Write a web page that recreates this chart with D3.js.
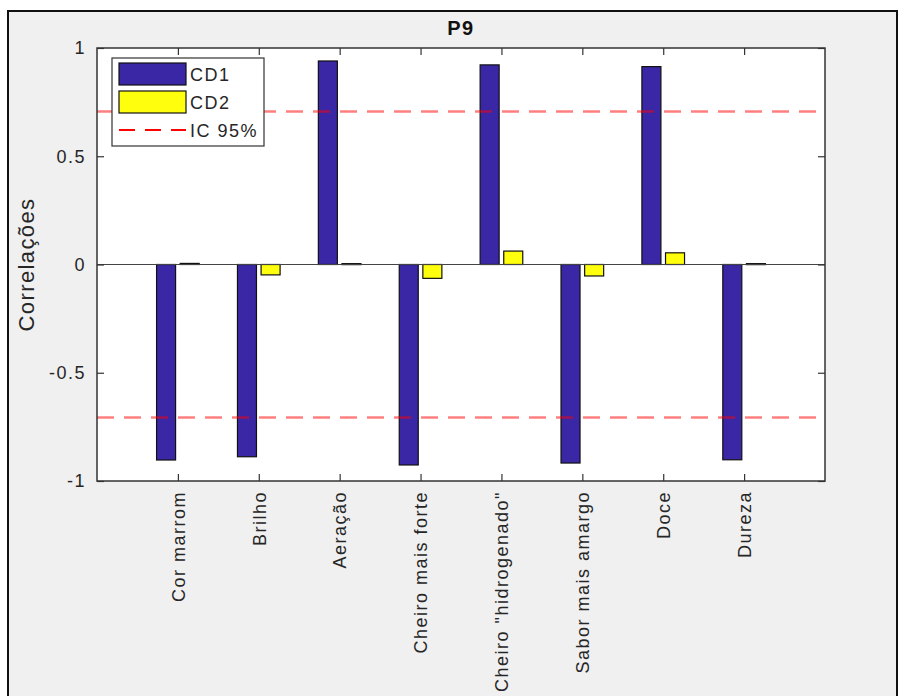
<!DOCTYPE html>
<html>
<head>
<meta charset="utf-8">
<script src="https://cdn.jsdelivr.net/npm/d3@7"></script>
<style>
  html, body { margin: 0; padding: 0; background: #ffffff; }
  svg { display: block; font-family: "Liberation Sans", Arial, Helvetica, sans-serif; }
</style>
</head>
<body>
<svg id="chart" width="898" height="696"></svg>
<script>
// Correlations of each attribute with the two discriminant functions
const categories = ["Cor marrom", "Brilho", "Aeração", "Cheiro mais forte",
                    "Cheiro \"hidrogenado\"", "Sabor mais amargo", "Doce", "Dureza"];
const cd1 = [-0.903, -0.888, 0.940, -0.926, 0.922, -0.917, 0.914, -0.902];
const cd2 = [0.005, -0.048, 0.004, -0.064, 0.062, -0.053, 0.054, 0.004];
const ic95 = 0.707;
const yTicks = [-1, -0.5, 0, 0.5, 1];
const seriesNames = ["CD1", "CD2"];
const seriesColors = ["#3a27a6", "#ffff0d"];

const svg = d3.select("#chart");
const W = 898, H = 696;
const plot = { left: 97, right: 825, top: 48, bottom: 481 };
const labelFont = { size: "18px", spacing: "1.5px" };

// Figure panel
svg.append("rect").attr("x", 0).attr("y", 0).attr("width", W).attr("height", H).attr("fill", "#ffffff");
svg.append("rect").attr("x", 8).attr("y", 11).attr("width", 889).attr("height", H)
  .attr("fill", "#f0f0f0").attr("stroke", "#111").attr("stroke-width", 2);

// Scales: categories sit at integer positions 1..n on a numeric axis
const x = d3.scaleLinear().domain([0, categories.length + 1]).range([plot.left, plot.right]);
const y = d3.scaleLinear().domain([-1, 1]).range([plot.bottom, plot.top]);

svg.append("rect").attr("x", plot.left).attr("y", plot.top)
  .attr("width", plot.right - plot.left).attr("height", plot.bottom - plot.top)
  .attr("fill", "#ffffff");

// Bars
const barW = 0.235, offset = 0.146;
const series = [cd1, cd2];
series.forEach((vals, s) => {
  const dx = s === 0 ? -offset : offset;
  svg.append("g").selectAll("rect").data(vals).join("rect")
    .attr("x", (d, i) => x(i + 1 + dx - barW / 2))
    .attr("width", x(barW) - x(0))
    .attr("y", d => y(Math.max(0, d)))
    .attr("height", d => Math.max(1, Math.abs(y(d) - y(0))))
    .attr("fill", seriesColors[s])
    .attr("stroke", "#111")
    .attr("stroke-width", 1.2);
});

// Zero baseline
svg.append("line").attr("x1", plot.left).attr("x2", plot.right)
  .attr("y1", y(0)).attr("y2", y(0)).attr("stroke", "#444").attr("stroke-width", 1.2);

// 95% confidence lines
[ic95, -ic95].forEach(v => {
  svg.append("line").attr("x1", plot.left).attr("x2", plot.right)
    .attr("y1", y(v)).attr("y2", y(v))
    .attr("stroke", "#ff0000").attr("stroke-opacity", 0.5)
    .attr("stroke-width", 2.5).attr("stroke-dasharray", "17,10");
});

// Axes (ticks pointing inward on all four sides)
const tickColor = "#262626";
const xTickVals = d3.range(1, categories.length + 1);
const styleAxis = g => {
  g.select(".domain").remove();
  g.selectAll(".tick line").attr("stroke", "#333").attr("stroke-width", 1.2);
  g.selectAll("text").attr("fill", tickColor)
    .style("font-size", labelFont.size).style("letter-spacing", labelFont.spacing);
};

svg.append("g").attr("transform", `translate(${plot.left},0)`)
  .call(d3.axisLeft(y).tickValues(yTicks).tickSize(-7).tickPadding(11).tickFormat(d => String(d)))
  .call(styleAxis);
svg.append("g").attr("transform", `translate(${plot.right},0)`)
  .call(d3.axisRight(y).tickValues(yTicks).tickSize(-7).tickFormat(""))
  .call(styleAxis);
svg.append("g").attr("transform", `translate(0,${plot.top})`)
  .call(d3.axisTop(x).tickValues(xTickVals).tickSize(-7).tickFormat(""))
  .call(styleAxis);
const xb = svg.append("g").attr("transform", `translate(0,${plot.bottom})`)
  .call(d3.axisBottom(x).tickValues(xTickVals).tickSize(-7).tickFormat(i => categories[i - 1]))
  .call(styleAxis);
xb.selectAll(".tick text")
  .attr("transform", "rotate(-90)")
  .attr("x", -10).attr("y", 0).attr("dy", "0.35em")
  .attr("text-anchor", "end");

// Plot frame
svg.append("rect").attr("x", plot.left).attr("y", plot.top)
  .attr("width", plot.right - plot.left).attr("height", plot.bottom - plot.top)
  .attr("fill", "none").attr("stroke", "#333").attr("stroke-width", 1.5);

// Title and y label
svg.append("text").attr("x", (plot.left + plot.right) / 2).attr("y", 35)
  .attr("text-anchor", "middle").style("font-size", "20px").style("font-weight", "bold")
  .style("letter-spacing", "1.5px").attr("fill", "#111").text("P9");
svg.append("text")
  .attr("transform", `translate(34,${y(0)}) rotate(-90)`)
  .attr("text-anchor", "middle").style("font-size", "22px").style("letter-spacing", "1.4px")
  .attr("fill", tickColor).text("Correlações");

// Legend
const lg = svg.append("g").attr("transform", "translate(112,58)");
lg.append("rect").attr("width", 152).attr("height", 88)
  .attr("fill", "#ffffff").attr("stroke", "#333").attr("stroke-width", 1.2);
seriesNames.forEach((name, i) => {
  lg.append("rect").attr("x", 7).attr("y", 5 + i * 28).attr("width", 67).attr("height", 22)
    .attr("fill", seriesColors[i]).attr("stroke", "#111").attr("stroke-width", 1.2);
  lg.append("text").attr("x", 78).attr("y", 17 + i * 28).attr("dy", "0.35em")
    .style("font-size", labelFont.size).style("letter-spacing", labelFont.spacing)
    .attr("fill", tickColor).text(name);
});
lg.append("line").attr("x1", 7).attr("x2", 74).attr("y1", 72).attr("y2", 72)
  .attr("stroke", "#ff0000").attr("stroke-width", 1.8).attr("stroke-dasharray", "16,10");
lg.append("text").attr("x", 78).attr("y", 73).attr("dy", "0.35em")
  .style("font-size", labelFont.size).style("letter-spacing", labelFont.spacing)
  .attr("fill", tickColor).text("IC 95%");
</script>
</body>
</html>
